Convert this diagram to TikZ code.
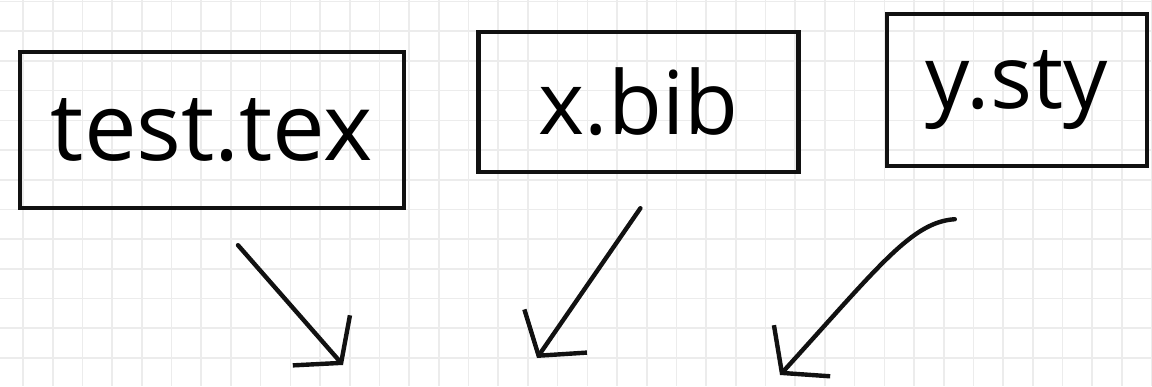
\documentclass[tikz,border=0pt]{standalone}
\usepackage{fontspec}
\setsansfont{Open Sans}
\usetikzlibrary{arrows.meta,positioning}
\definecolor{ink}{HTML}{111111}
\definecolor{gridgray}{HTML}{ECECEC}

\begin{document}
\begin{tikzpicture}[x=0.5pt, y=-0.5pt,
    file/.style={draw=ink, line width=2.2pt, inner sep=0pt, font=\sffamily\fontsize{44}{48}\selectfont},
    gridline/.style={draw=gridgray, line width=0.8pt},
    flow/.style={draw=ink, line width=2.2pt, line cap=round, -{Straight Barb[length=15pt, width=38pt, line width=2.2pt]}}]
  \useasboundingbox[fill=white] (0,0) rectangle (1152,386);
  % squared paper
  \foreach \gx in {23,52.7,...,1152} \draw[gridline] (\gx,0) -- (\gx,386);
  \foreach \gy in {1.5,31.2,...,386} \draw[gridline] (0,\gy) -- (1152,\gy);
  % the three files
  \node[file, minimum width=192pt, minimum height=78pt, font=\sffamily\fontsize{47}{50}\selectfont] (tex) at (212,130) {test.tex};
  \node[file, minimum width=160pt, minimum height=70pt, right=35pt of tex, yshift=14pt] (bib) {x.bib};
  \node[file, minimum width=130pt, minimum height=76pt, right=42pt of bib, yshift=6pt] (sty) {y.sty};
  % arrows down
  \coordinate (texin) at (343,365);
  \coordinate (bibin) at (537,358);
  \coordinate (styin) at (780,375);
  \draw[flow] ([shift={(26,35)}]tex.south) -- (texin);
  \draw[flow] ([shift={(2,34)}]bib.south) -- (bibin);
  \draw[flow] ([shift={(-62,51)}]sty.south) .. controls (912,222) and (880,265) .. (styin);
\end{tikzpicture}
\end{document}
